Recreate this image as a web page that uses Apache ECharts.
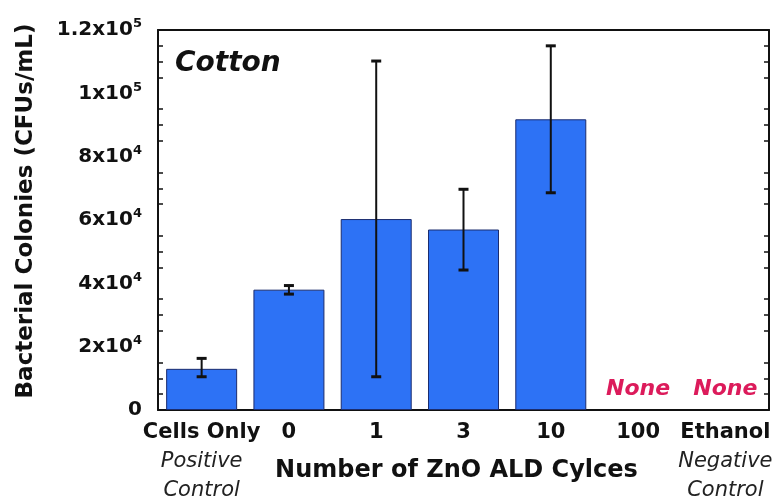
<!DOCTYPE html>
<html>
<head>
<meta charset="utf-8">
<script src="https://cdn.jsdelivr.net/npm/echarts@6/dist/echarts.min.js"></script>
<style>html,body{margin:0;padding:0;background:#fff}#c{width:777px;height:502px}</style>
</head>
<body>
<div id="c"></div>
<script>
const categories = ['Cells Only', '0', '1', '3', '10', '100', 'Ethanol'];
const values = [13000, 38000, 60300, 57000, 91800, 0, 0];
const errLow = [10500, 36600, 10500, 44200, 68600, null, null];
const errHigh = [16300, 39300, 110200, 69700, 115000, null, null];
const yTickValues = [0, 20000, 40000, 60000, 80000, 100000, 120000];
const yTickBase = ['0', '2x10', '4x10', '6x10', '8x10', '1x10', '1.2x10'];
const yTickExp = ['', '4', '4', '4', '4', '5', '5'];
const subLabels = {0: ['Positive', 'Control'], 6: ['Negative', 'Control']};

const FONT = '"DejaVu Sans", sans-serif';
const chart = echarts.init(document.getElementById('c'));

const yLabelFmt = function (v) {
  const i = yTickValues.indexOf(v);
  if (i < 0) return '';
  return '{b|' + yTickBase[i] + '}' + (yTickExp[i] ? '{s|' + yTickExp[i] + '}' : '');
};

const errData = categories.map((c, i) => [i, errLow[i], errHigh[i]]).filter(d => d[1] != null);
const barData = values.map(v => (v === 0 ? {value: v, itemStyle: {borderWidth: 0, color: 'rgba(0,0,0,0)'}} : v));

chart.setOption({
  animation: false,
  backgroundColor: '#fff',
  textStyle: {fontFamily: FONT},
  title: {
    text: 'Cotton', left: 170, top: 45,
    textStyle: {fontFamily: FONT, fontSize: 28, fontWeight: 'bold', fontStyle: 'italic', color: '#111'}
  },
  grid: {left: 158, right: 8, top: 30, bottom: 92, containLabel: false, outerBoundsMode: 'none'},
  xAxis: [{
    type: 'category', data: categories, position: 'bottom',
    axisLine: {onZero: false, lineStyle: {color: '#111', width: 2}},
    axisTick: {inside: true, length: 7, lineStyle: {color: '#111', width: 2}, alignWithLabel: false},
    axisLabel: {
      margin: 8, interval: 0,
      formatter: function (v, i) {
        let s = '{c|' + v + '}';
        if (subLabels[i]) s += '\n{i|' + subLabels[i][0] + '}\n{i|' + subLabels[i][1] + '}';
        return s;
      },
      rich: {
        c: {fontFamily: FONT, fontSize: 21, fontWeight: 'bold', color: '#111', lineHeight: 29},
        i: {fontFamily: FONT, fontSize: 21, fontStyle: 'italic', color: '#222', lineHeight: 29}
      }
    },
    name: 'Number of ZnO ALD Cylces', nameLocation: 'middle', nameGap: 49, nameMoveOverlap: false,
    nameTextStyle: {fontFamily: FONT, fontSize: 24, fontWeight: 'bold', color: '#111', padding: [0, 14, 0, 0]}
  }, {
    type: 'category', data: categories, position: 'top',
    axisLine: {onZero: false, lineStyle: {color: '#111', width: 2}},
    axisTick: {inside: true, length: 7, lineStyle: {color: '#111', width: 2}},
    axisLabel: {show: false}
  }],
  yAxis: [{
    type: 'value', min: 0, max: 120000, interval: 20000, position: 'left',
    axisLine: {show: true, onZero: false, lineStyle: {color: '#111', width: 2}},
    axisTick: {inside: true, length: 8, lineStyle: {color: '#111', width: 2}},
    minorTick: {show: true, splitNumber: 4, length: 5, lineStyle: {color: '#111', width: 1.5}},
    splitLine: {show: false},
    axisLabel: {
      margin: 16, formatter: yLabelFmt,
      rich: {
        b: {fontFamily: FONT, fontSize: 20, fontWeight: 'bold', color: '#111'},
        s: {fontFamily: FONT, fontSize: 13, fontWeight: 'bold', color: '#111', padding: [0, 0, 12, 0]}
      }
    },
    name: 'Bacterial Colonies (CFUs/mL)', nameLocation: 'middle', nameGap: 120, nameMoveOverlap: false,
    nameTextStyle: {fontFamily: FONT, fontSize: 23, fontWeight: 'bold', color: '#111', padding: [0, 0, 0, 18]}
  }, {
    type: 'value', min: 0, max: 120000, interval: 20000, position: 'right',
    axisLine: {show: true, onZero: false, lineStyle: {color: '#111', width: 2}},
    axisTick: {inside: true, length: 8, lineStyle: {color: '#111', width: 2}},
    minorTick: {show: true, splitNumber: 4, length: 5, lineStyle: {color: '#111', width: 1.5}},
    splitLine: {show: false},
    axisLabel: {show: false}
  }],
  series: [{
    type: 'bar', data: barData, barWidth: 71, xAxisIndex: 0, yAxisIndex: 0,
    itemStyle: {color: '#2d72f5', borderColor: '#1b2c6e', borderWidth: 1},
    label: {
      show: true, position: 'top', distance: 10,
      formatter: p => (p.value === 0 ? 'None' : ''),
      fontFamily: FONT, fontSize: 22, fontWeight: 'bold', fontStyle: 'italic', color: '#dc1b5b'
    }
  }, {
    type: 'custom', xAxisIndex: 0, yAxisIndex: 0, data: errData, z: 10,
    renderItem: function (params, api) {
      const x = api.value(0);
      const lo = api.coord([x, api.value(1)]);
      const hi = api.coord([x, api.value(2)]);
      const cap = 5;
      return {
        type: 'group', children: [
          {type: 'line', shape: {x1: lo[0], y1: lo[1], x2: hi[0], y2: hi[1]}, style: {stroke: '#111', lineWidth: 2}},
          {type: 'line', shape: {x1: lo[0] - cap, y1: lo[1], x2: lo[0] + cap, y2: lo[1]}, style: {stroke: '#111', lineWidth: 3}},
          {type: 'line', shape: {x1: hi[0] - cap, y1: hi[1], x2: hi[0] + cap, y2: hi[1]}, style: {stroke: '#111', lineWidth: 3}}
        ]
      };
    }
  }]
});
</script>
</body>
</html>
